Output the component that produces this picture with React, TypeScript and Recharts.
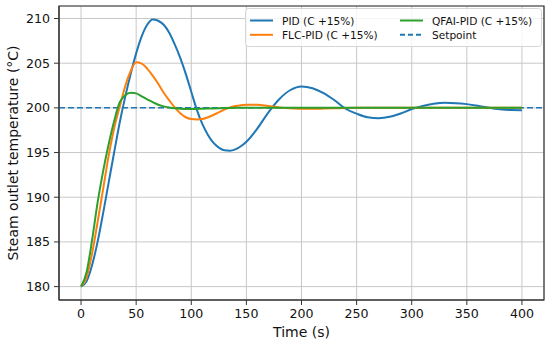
import React from 'react';
import {
  LineChart,
  Line,
  XAxis,
  YAxis,
  CartesianGrid,
  ReferenceLine,
  ReferenceArea,
  Legend,
} from 'recharts';

// time axis (s): 5 s steps up to 150, then 10 s steps
const time = [
  0, 5, 10, 15, 20, 25, 30, 35, 40, 45, 50, 55, 60, 65, 70, 75, 80, 85, 90, 95, 100,
  105, 110, 115, 120, 125, 130, 135, 140, 145, 150,
  160, 170, 180, 190, 200, 210, 220, 230, 240, 250, 260, 270, 280, 290, 300,
  310, 320, 330, 340, 350, 360, 370, 380, 390, 400,
];

const pid = [
  180.0, 180.6, 182.4, 185.0, 188.2, 191.6, 195.0, 198.3, 201.2, 203.8, 206.1, 208.0, 209.3, 209.9, 209.75, 209.3, 208.4, 207.1, 205.6, 203.8, 201.8,
  199.8, 198.2, 197.0, 196.1, 195.55, 195.25, 195.2, 195.35, 195.7, 196.2,
  197.7, 199.5, 201.0, 202.0, 202.4, 202.2, 201.65, 200.85, 199.9, 199.35, 198.95, 198.85, 199.0, 199.37, 199.87,
  200.22, 200.45, 200.56, 200.53, 200.42, 200.24, 200.02, 199.85, 199.76, 199.74,
];

const flcPid = [
  180.0, 181.0, 183.7, 187.2, 190.9, 194.6, 197.7, 200.1, 202.4, 204.1, 205.1, 204.95, 204.4, 203.6, 202.7, 201.7, 200.85, 200.05, 199.4, 198.95, 198.75,
  198.7, 198.75, 198.95, 199.2, 199.5, 199.8, 200.05, 200.2, 200.3, 200.35,
  200.35, 200.2, 200.05, 199.95, 199.9, 199.9, 199.92, 199.95, 199.98, 200.0, 200.0, 200.0, 200.0, 200.0, 200.0,
  200.0, 200.0, 200.0, 200.0, 200.0, 200.0, 200.0, 200.0, 200.0, 200.0,
];

const qfaiPid = [
  180.0, 181.6, 185.2, 189.4, 192.9, 195.9, 198.5, 200.6, 201.4, 201.7, 201.62, 201.3, 200.95, 200.65, 200.35, 200.17, 200.05, 199.96, 199.9, 199.87, 199.87,
  199.88, 199.9, 199.92, 199.94, 199.96, 199.98, 199.99, 200.0, 200.0, 200.0,
  200.0, 200.0, 200.0, 200.0, 200.0, 200.0, 200.0, 200.0, 200.0, 200.0, 200.0, 200.0, 200.0, 200.0, 200.0,
  200.0, 200.0, 200.0, 200.0, 200.0, 200.0, 200.0, 200.0, 200.0, 200.0,
];

const setpoint = 200;
const xTicks = [0, 50, 100, 150, 200, 250, 300, 350, 400];
const yTicks = [180, 185, 190, 195, 200, 205, 210];
const seriesNames = ['PID (C +15%)', 'FLC-PID (C +15%)', 'QFAI-PID (C +15%)', 'Setpoint'];

const BLUE = '#1f77b4';
const ORANGE = '#ff7f0e';
const GREEN = '#2ca02c';
const FONT = '"DejaVu Sans", sans-serif';
const INK = '#111';

const data = time.map((t, i) => ({ t, pid: pid[i], flc: flcPid[i], qfai: qfaiPid[i] }));

const legendRows = [
  { name: seriesNames[0], color: BLUE, dash: undefined, col: 0, row: 0 },
  { name: seriesNames[1], color: ORANGE, dash: undefined, col: 0, row: 1 },
  { name: seriesNames[2], color: GREEN, dash: undefined, col: 1, row: 0 },
  { name: seriesNames[3], color: BLUE, dash: '5 3', col: 1, row: 1 },
];

const LegendBox = () => (
  <svg width={297} height={39} style={{ display: 'block' }}>
    <rect x={0.5} y={0.5} width={296} height={38} rx={3} fill="rgba(255,255,255,0.8)" stroke="#d6d6d6" />
    {legendRows.map((it) => {
      const x0 = it.col === 0 ? 5 : 155;
      const y = it.row === 0 ? 12.5 : 26.8;
      return (
        <g key={it.name}>
          <line x1={x0} x2={x0 + 23} y1={y} y2={y} stroke={it.color} strokeWidth={2} strokeDasharray={it.dash} />
          <text x={x0 + 32} y={y} dominantBaseline="central" fontSize={10.6} fontFamily={FONT} fill={INK}>
            {it.name}
          </text>
        </g>
      );
    })}
  </svg>
);

const tickStyle = { fontSize: 12.6, fontFamily: FONT, fill: INK };

export default function App() {
  return (
    <div style={{ width: 550, height: 345, background: '#fff' }}>
      <style>{'body{margin:0}'}</style>
      <LineChart width={550} height={345} data={data} margin={{ top: 6, right: 6, left: 0, bottom: 0 }}>
        <CartesianGrid stroke="#c8c8c8" strokeWidth={1} />
        <XAxis
          dataKey="t"
          type="number"
          domain={[-20, 420]}
          ticks={xTicks}
          allowDataOverflow
          height={45}
          tickSize={5}
          tickMargin={4}
          stroke="#333"
          tick={tickStyle}
          label={() => (
            <text x={301.5} y={337} textAnchor="middle" fontSize={14} fontFamily={FONT} fill={INK}>
              Time (s)
            </text>
          )}
        />
        <YAxis
          type="number"
          domain={[178.5, 211.4]}
          ticks={yTicks}
          allowDataOverflow
          width={59}
          tickSize={5}
          tickMargin={4}
          stroke="#333"
          tick={tickStyle}
          label={() => (
            <text
              x={13}
              y={153}
              transform="rotate(-90 13 153)"
              textAnchor="middle"
              dominantBaseline="central"
              fontSize={14}
              fontFamily={FONT}
              fill={INK}
            >
              Steam outlet temperature (°C)
            </text>
          )}
        />
        <ReferenceLine y={setpoint} stroke={BLUE} strokeWidth={1.5} strokeDasharray="6 3" />
        <Line type="monotone" dataKey="pid" name={seriesNames[0]} stroke={BLUE} strokeWidth={2} dot={false} isAnimationActive={false} />
        <Line type="monotone" dataKey="flc" name={seriesNames[1]} stroke={ORANGE} strokeWidth={2} dot={false} isAnimationActive={false} />
        <Line type="monotone" dataKey="qfai" name={seriesNames[2]} stroke={GREEN} strokeWidth={2} dot={false} isAnimationActive={false} />
        <ReferenceArea x1={-20} x2={420} y1={178.5} y2={211.4} fill="none" stroke="#333" strokeWidth={1.2} />
        <Legend
          layout="vertical"
          align="center"
          verticalAlign="middle"
          content={() => <LegendBox />}
          wrapperStyle={{ left: 245, top: 8, width: 297, height: 39 }}
        />
      </LineChart>
    </div>
  );
}
